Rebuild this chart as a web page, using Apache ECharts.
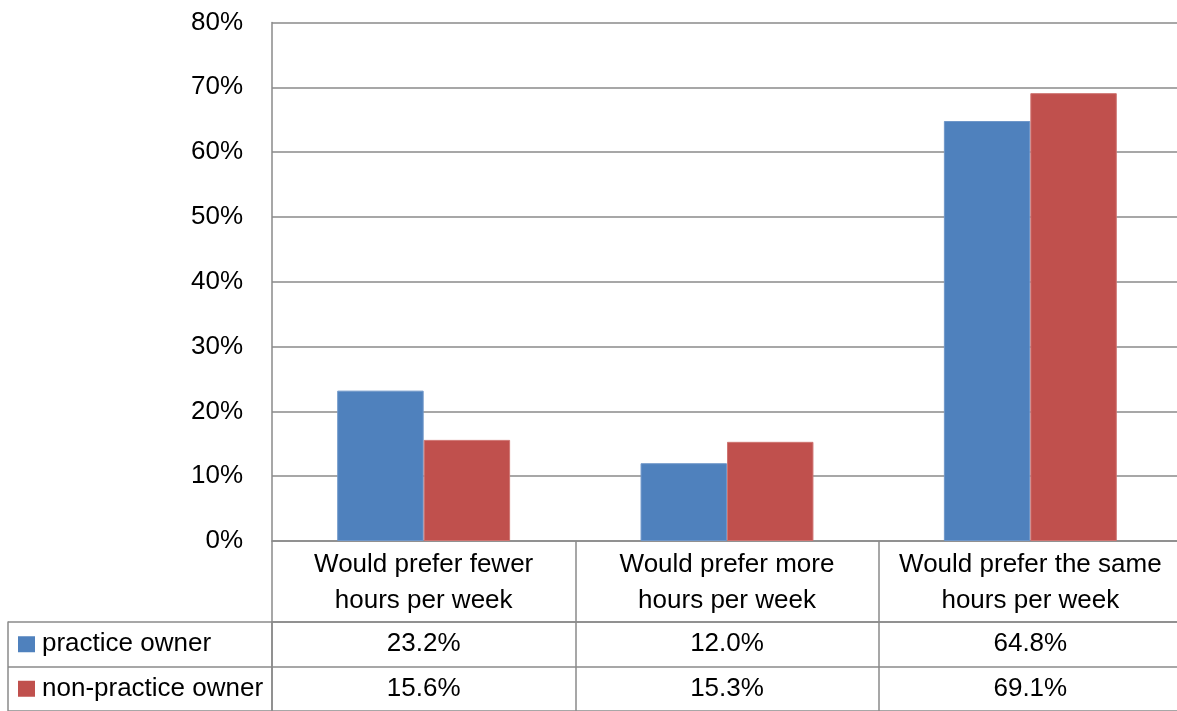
<!DOCTYPE html>
<html>
<head>
<meta charset="utf-8">
<script src="https://cdn.jsdelivr.net/npm/echarts@6/dist/echarts.min.js"></script>
<style>
  html, body { margin: 0; padding: 0; background: #fff; overflow: hidden; }
  /* the chart runs a few pixels past the right edge of the window */
  #chart { width: 1182px; height: 711px; }
</style>
</head>
<body>
<div id="chart"></div>
<script>
// Working-hours preference by ownership status (percent of respondents)
const categories = [
  'Would prefer fewer\nhours per week',
  'Would prefer more\nhours per week',
  'Would prefer the same\nhours per week'
];
const seriesNames = ['practice owner', 'non-practice owner'];
const practiceOwner = [23.2, 12.0, 64.8];
const nonPracticeOwner = [15.6, 15.3, 69.1];
const yTicks = { min: 0, max: 80, interval: 10 };

const colors = ['#4F81BD', '#C0504D'];
const borders = ['#6f97c9', '#cf7572'];
const gridColor = '#8a8a8a';
const font = '"Liberation Sans", Arial, sans-serif';
const fontSize = 26;

const seriesValues = [practiceOwner, nonPracticeOwner];

// one invisible point per table cell, carrying the value as its label
const tableSeries = seriesValues.map((vals, s) => ({
  type: 'scatter',
  xAxisIndex: 1,
  yAxisIndex: 1,
  symbol: 'circle',
  symbolSize: 1,
  itemStyle: { color: 'rgba(0,0,0,0)' },
  silent: true,
  label: {
    show: true,
    position: 'inside',
    color: '#000',
    opacity: 1,
    fontFamily: font,
    fontSize: fontSize,
    formatter: p => p.value[2].toFixed(1) + '%'
  },
  data: vals.map((v, i) => [i, seriesNames[s], v])
}));

const barSeries = seriesValues.map((vals, s) => ({
  name: seriesNames[s],
  type: 'bar',
  xAxisIndex: 0,
  yAxisIndex: 0,
  barGap: '0%',
  barCategoryGap: '43%',
  itemStyle: { color: colors[s], borderColor: borders[s], borderWidth: 1 },
  data: vals
}));

const chart = echarts.init(document.getElementById('chart'), null, { renderer: 'canvas' });
chart.setOption({
  animation: false,
  backgroundColor: '#fff',
  textStyle: { fontFamily: font },
  grid: [
    { left: 272, right: 0, top: 22.5, height: 518.5 },
    { left: 272, right: 0, top: 622, height: 90 }
  ],
  xAxis: [
    {
      type: 'category',
      gridIndex: 0,
      data: categories,
      axisLine: { show: true, lineStyle: { color: gridColor, width: 1.5 } },
      axisTick: { show: true, interval: 0, length: 81, lineStyle: { color: gridColor, width: 1.5 } },
      axisLabel: {
        interval: 0,
        margin: 6,
        color: '#000',
        fontFamily: font,
        fontSize: fontSize,
        lineHeight: 36
      },
      splitLine: { show: false }
    },
    {
      type: 'category',
      gridIndex: 1,
      position: 'top',
      data: categories,
      axisLine: { show: true, lineStyle: { color: gridColor, width: 1.5 } },
      axisTick: { show: false },
      axisLabel: { show: false },
      splitLine: { show: true, interval: 0, lineStyle: { color: gridColor, width: 1.5 } }
    }
  ],
  yAxis: [
    {
      type: 'value',
      gridIndex: 0,
      min: yTicks.min,
      max: yTicks.max,
      interval: yTicks.interval,
      axisLine: { show: true, lineStyle: { color: gridColor, width: 1.5 } },
      axisTick: { show: false },
      axisLabel: {
        margin: 29,
        color: '#000',
        fontFamily: font,
        fontSize: fontSize,
        formatter: '{value}%'
      },
      splitLine: { show: true, lineStyle: { color: gridColor, width: 1.5 } }
    },
    {
      type: 'category',
      gridIndex: 1,
      inverse: true,
      data: seriesNames,
      axisLine: { show: true, lineStyle: { color: gridColor, width: 1.5 } },
      axisTick: { show: true, interval: 0, length: 264, lineStyle: { color: gridColor, width: 1.5 } },
      axisLabel: {
        interval: 0,
        align: 'left',
        margin: 254,
        formatter: (name) => {
          const k = seriesNames.indexOf(name);
          return '{m' + k + '|}{t|' + name + '}';
        },
        rich: {
          m0: { width: 17, height: 16, backgroundColor: colors[0] },
          m1: { width: 17, height: 16, backgroundColor: colors[1] },
          t: { color: '#000', fontFamily: font, fontSize: fontSize, padding: [0, 0, 0, 7] }
        }
      },
      splitLine: { show: true, interval: 0, lineStyle: { color: gridColor, width: 1.5 } }
    },
    {
      // outer left edge of the data table
      type: 'category',
      gridIndex: 1,
      position: 'left',
      offset: 264,
      inverse: true,
      data: seriesNames,
      axisLine: { show: true, lineStyle: { color: gridColor, width: 1.5 } },
      axisTick: { show: false },
      axisLabel: { show: false },
      splitLine: { show: false }
    }
  ],
  series: [...barSeries, ...tableSeries]
});
</script>
</body>
</html>
